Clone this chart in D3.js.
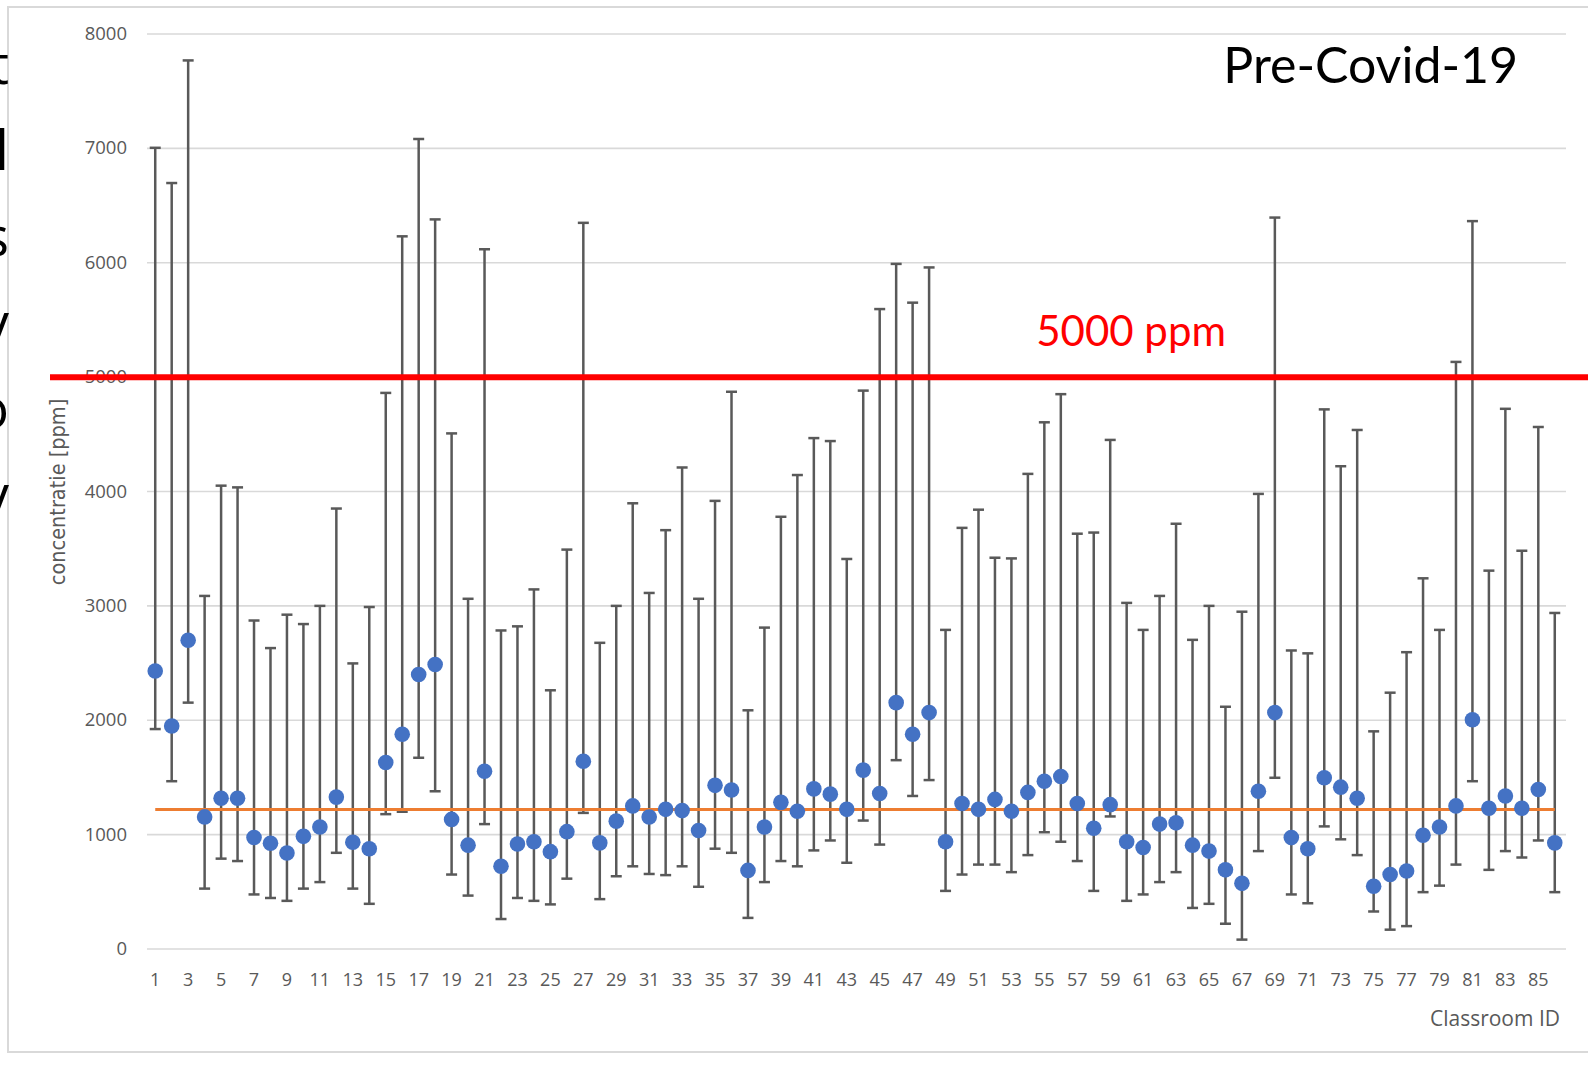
<!DOCTYPE html>
<html>
<head>
<meta charset="utf-8">
<script src="https://d3js.org/d3.v7.min.js"></script>
<style>
  body { margin:0; background:white; }
  .tick-y { font-family:"Open Sans", sans-serif; font-size:18.5px; fill:#595959; }
  .tick-x { font-family:"Open Sans", sans-serif; font-size:18px; fill:#595959; }
  .axis-title { font-family:"Open Sans", sans-serif; fill:#595959; }
</style>
</head>
<body>
<script>
// classroom data (ppm): mean, min, max
var classrooms = d3.range(1, 87);
var meanValues = [2430,1950,2700,1155,1318,1318,975,925,840,985,1067,1328,933,877,1631,1877,2400,2487,1133,908,
                  1554,723,918,938,851,1026,1641,928,1118,1251,1154,1221,1210,1036,1431,1390,687,1067,1282,1205,
                  1400,1354,1221,1564,1359,2154,1877,2067,938,1272,1221,1308,1205,1369,1467,1508,1272,1056,1262,938,
                  887,1092,1103,908,856,692,574,1379,2067,974,877,1497,1415,1318,549,651,682,995,1067,1251,
                  2005,1231,1338,1231,1395,928];
var minValues = [1923,1467,2154,528,790,769,477,446,421,528,585,841,528,395,1179,1200,1672,1379,651,467,
                 1092,262,446,421,390,615,1190,436,636,723,656,646,723,544,877,841,272,585,769,723,
                 862,949,754,1123,913,1651,1338,1477,508,651,738,738,672,821,1021,938,769,508,1159,421,
                 477,585,672,359,395,221,82,856,1497,477,400,1072,959,821,328,169,200,497,554,738,
                 1467,692,856,800,949,497];
var maxValues = [7005,6697,7769,3087,4051,4036,2872,2631,2923,2841,3000,3851,2497,2990,4862,6231,7082,6379,4508,3062,
                 6118,2785,2821,3144,2262,3492,6349,2677,3000,3897,3113,3662,4210,3062,3918,4872,2087,2810,3779,4144,
                 4467,4441,3410,4882,5595,5990,5651,5959,2790,3682,3841,3421,3415,4154,4605,4851,3631,3641,4451,3026,
                 2790,3087,3718,2703,3000,2118,2949,3979,6395,2610,2585,4718,4221,4538,1903,2241,2595,3241,2790,5133,
                 6364,3308,4723,3482,4564,2938];
var overallMean = 1220;
var limitValue = 5000;
var yTicks = [0,1000,2000,3000,4000,5000,6000,7000,8000];
var edgeLetters = ["t","l","s","v","o","v"];

var width = 1588, height = 1068;
var svg = d3.select("body").append("svg").attr("width", width).attr("height", height);

// chart frame
svg.append("rect").attr("x",8).attr("y",7).attr("width",1600).attr("height",1045)
   .attr("fill","white").attr("stroke","#d9d9d9").attr("stroke-width",2);

var x = d3.scaleBand().domain(classrooms).range([147, 1563]);
var y = d3.scaleLinear().domain([0, 8000]).range([949, 34]);
var cx = function(d){ return x(d) + x.bandwidth()/2; };

// gridlines
svg.append("g").selectAll("line").data(yTicks).enter().append("line")
   .attr("x1",147).attr("x2",1566)
   .attr("y1",function(d){return y(d);}).attr("y2",function(d){return y(d);})
   .attr("stroke","#d9d9d9").attr("stroke-width",1.6);

// y tick labels
svg.append("g").selectAll("text").data(yTicks).enter().append("text")
   .classed("tick-y",true)
   .attr("x",127).attr("y",function(d){return y(d)+6;})
   .attr("text-anchor","end")
   .text(function(d){return d;});

// x tick labels (odd ids)
svg.append("g").selectAll("text").data(classrooms.filter(function(d){return d%2==1;})).enter().append("text")
   .classed("tick-x",true)
   .attr("x",cx).attr("y",986)
   .attr("text-anchor","middle")
   .text(function(d){return d;});

svg.append("text").classed("axis-title",true)
   .attr("x",1560).attr("y",1026).attr("text-anchor","end")
   .style("font-size","21px").text("Classroom ID");

svg.append("text")
   .attr("transform","translate(65,492) rotate(-90)").attr("text-anchor","middle")
   .style("font-family","'DejaVu Sans Condensed', 'DejaVu Sans', sans-serif")
   .style("font-size","21.5px").attr("fill","#595959").text("concentratie [ppm]");

// error bars
var bars = svg.append("g").selectAll("g").data(classrooms).enter().append("g");
bars.append("line")
    .attr("x1",cx).attr("x2",cx)
    .attr("y1",function(d,i){return y(minValues[i]);})
    .attr("y2",function(d,i){return y(maxValues[i]);})
    .attr("stroke","#595959").attr("stroke-width",2.5);
["min","max"].forEach(function(k){
  bars.append("line")
      .attr("x1",function(d){return cx(d)-5.5;}).attr("x2",function(d){return cx(d)+5.5;})
      .attr("y1",function(d,i){return y(k=="min"?minValues[i]:maxValues[i]);})
      .attr("y2",function(d,i){return y(k=="min"?minValues[i]:maxValues[i]);})
      .attr("stroke","#595959").attr("stroke-width",2.5);
});

// 5000 ppm limit line
svg.append("line").attr("x1",50).attr("x2",1588)
   .attr("y1",y(limitValue)).attr("y2",y(limitValue))
   .attr("stroke","#ff0000").attr("stroke-width",6);

// mean line
svg.append("line").attr("x1",cx(1)).attr("x2",cx(86))
   .attr("y1",y(overallMean)).attr("y2",y(overallMean))
   .attr("stroke","#ed7d31").attr("stroke-width",3);

// points
svg.append("g").selectAll("circle").data(classrooms).enter().append("circle")
   .attr("cx",cx).attr("cy",function(d,i){return y(meanValues[i]);})
   .attr("r",7.8).attr("fill","#4472c4");

// annotations
svg.append("text").attr("x",1226).attr("y",346).attr("text-anchor","end")
   .style("font-family","Lato, sans-serif").style("font-size","42px").attr("fill","#ff0000")
   .text("5000 ppm");
svg.append("text").attr("x",1518).attr("y",83).attr("text-anchor","end")
   .style("font-family","Lato, sans-serif").style("font-size","50px").attr("fill","#000")
   .text("Pre-Covid-19");

// text cut off at the left edge
svg.append("g").selectAll("text").data(edgeLetters).enter().append("text")
   .attr("x",9).attr("y",function(d,i){return 84+i*86;})
   .attr("text-anchor","end")
   .style("font-family","'Open Sans', sans-serif")
   .style("font-size","54px").attr("fill","#000")
   .text(function(d){return d;});
</script>
</body>
</html>
